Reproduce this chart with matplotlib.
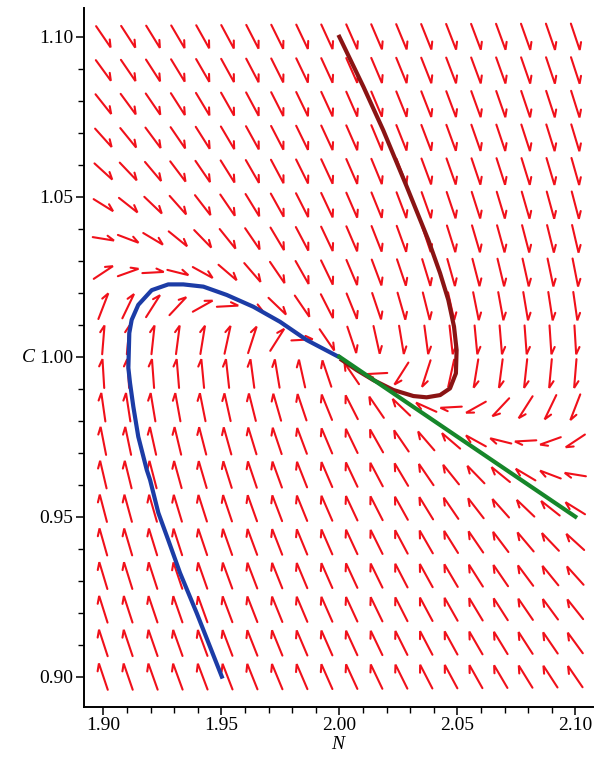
import numpy as np
import matplotlib
matplotlib.use('Agg')
import matplotlib.pyplot as plt
from matplotlib.collections import LineCollection

# direction field: linearised system about the equilibrium (N*, C*) = (2, 1)
# dN/dt = a_NN (N-N*) + a_NC (C-C*),  dC/dt = a_CN (N-N*) + a_CC (C-C*)
N_star, C_star = 2.0, 1.0
a_NN, a_NC = 0.0, 1.0
a_CN, a_CC = -0.56, -1.64

n_grid = 20
N_range = [1.90, 2.10]
C_range = [0.90, 1.10]

# solution curves
blue_N = [1.9502, 1.9396, 1.9325, 1.9275, 1.9233, 1.9198, 1.9184, 1.9148, 1.9127,
          1.9113, 1.9106, 1.9110, 1.9120, 1.9148, 1.9205, 1.9275, 1.9339, 1.9424,
          1.9523, 1.9636, 1.9749, 1.9862, 1.9996]
blue_C = [0.9000, 0.9198, 0.9324, 0.9427, 0.9512, 0.9615, 0.9646, 0.9750, 0.9844,
          0.9918, 0.9965, 1.0074, 1.0115, 1.0162, 1.0208, 1.0226, 1.0226, 1.0219,
          1.0193, 1.0156, 1.0109, 1.0052, 1.0000]

red_N = [2.0000, 2.0102, 2.0186, 2.0286, 2.0377, 2.0427, 2.0462, 2.0486, 2.0497,
         2.0494, 2.0469, 2.0427, 2.0370, 2.0314, 2.0229, 2.0144, 2.0074, 2.0010]
red_C = [1.1000, 1.0844, 1.0708, 1.0531, 1.0365, 1.0261, 1.0177, 1.0094, 1.0021,
         0.9948, 0.9901, 0.9880, 0.9873, 0.9877, 0.9896, 0.9927, 0.9958, 0.9990]

green_N = [2.10, 2.05, 2.00]
green_C = [0.95, 0.975, 1.00]

x_ticks = [1.90, 1.95, 2.00, 2.05, 2.10]
y_ticks = [0.90, 0.95, 1.00, 1.05, 1.10]

serif = ['Liberation Serif', 'DejaVu Serif']

fig = plt.figure(figsize=(6.05, 7.65), dpi=100)
ax = fig.add_axes([84/605, 1-707/765, (593-84)/605, (707-8)/765])
ax.set_xlim(1.8918, 2.1075)
ax.set_ylim(0.8905, 1.109)

# arrows, all the same length in grid units (like dfieldplot)
Ng, Cg = np.meshgrid(np.linspace(N_range[0], N_range[1], n_grid),
                     np.linspace(C_range[0], C_range[1], n_grid))
dN = a_NN*(Ng-N_star) + a_NC*(Cg-C_star)
dC = a_CN*(Ng-N_star) + a_CC*(Cg-C_star)
hx = (N_range[1]-N_range[0])/(n_grid-1)
hy = (C_range[1]-C_range[0])/(n_grid-1)
u = dN/hx
v = dC/hy
mag = np.hypot(u, v)
u = u/mag*0.86
v = v/mag*0.86
tail = np.column_stack([(Ng - 0.5*u*hx).ravel(), (Cg - 0.5*v*hy).ravel()])
tip = np.column_stack([(Ng + 0.5*u*hx).ravel(), (Cg + 0.5*v*hy).ravel()])

# single barb at the tip, done in pixel space
tail_px = ax.transData.transform(tail)
tip_px = ax.transData.transform(tip)
d = tip_px - tail_px
back = -d/np.hypot(d[:, 0], d[:, 1])[:, None]
th = np.radians(28)
barb = np.column_stack([back[:, 0]*np.cos(th) + back[:, 1]*np.sin(th),
                        -back[:, 0]*np.sin(th) + back[:, 1]*np.cos(th)])
barb_end = ax.transData.inverted().transform(tip_px + barb*8)

segs = []
for i in range(len(tip)):
    segs.append([tail[i], tip[i], barb_end[i]])
lc = LineCollection(segs, colors='#f0101a', linewidths=1.5, capstyle='round',
                    joinstyle='miter')
ax.add_collection(lc)

# trajectories
ax.plot(blue_N, blue_C, color='#1c3ca6', lw=3)
ax.plot(red_N, red_C, color='#8a1414', lw=3)
ax.plot(green_N, green_C, color='#16862a', lw=3)

for s in ['top', 'right']:
    ax.spines[s].set_visible(False)
for s in ['left', 'bottom']:
    ax.spines[s].set_linewidth(1.4)

ax.set_xticks(x_ticks)
ax.set_yticks(y_ticks)
ax.set_xticks(np.arange(1.90, 2.1001, 0.01), minor=True)
ax.set_yticks(np.arange(0.90, 1.1001, 0.01), minor=True)
ax.set_xticklabels(['%.2f' % t for t in x_ticks], family=serif, fontsize=14)
ax.set_yticklabels(['%.2f' % t for t in y_ticks], family=serif, fontsize=14)
ax.tick_params(which='major', direction='out', length=5.5, width=1.1, pad=2)
ax.tick_params(which='minor', direction='out', length=4, width=1.0)

ax.set_xlabel('N', family=serif, fontstyle='italic', fontsize=14, va='center')
ax.set_ylabel('C', family=serif, fontstyle='italic', fontsize=14, rotation=0,
              va='center', ha='center')
ax.xaxis.set_label_coords(0.499, -0.054)
ax.yaxis.set_label_coords(-0.11, 0.5007)

fig.savefig('out.png', dpi=100)
